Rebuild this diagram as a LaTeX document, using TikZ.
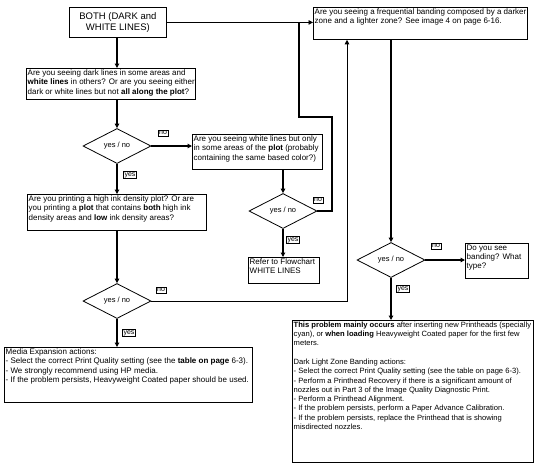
\documentclass[tikz,border=0pt]{standalone}
\usepackage{fontspec}
\setmainfont{Liberation Sans}
\usetikzlibrary{shapes.geometric,arrows.meta}

\tikzset{
  frame/.style={draw, line width=0.8pt, inner sep=0pt, anchor=north west},
  txt/.style={anchor=north west, inner sep=1.5pt, align=left, font=\fontsize{8}{9.3}\selectfont},
  choice/.style={draw, diamond, aspect=2, line width=0.8pt, inner sep=0pt, minimum width=68pt, minimum height=35pt, font=\fontsize{7.5}{9}\selectfont},
  tag/.style={draw, line width=0.5pt, inner sep=1pt, font=\fontsize{7}{8}\selectfont},
  flow/.style={line width=1.3pt, -{Triangle[length=4.5pt,width=4.5pt]}},
  link/.style={line width=0.9pt, -{Triangle[length=4.5pt,width=4.5pt]}},
}

\begin{document}
\begin{tikzpicture}[x=1pt,y=1pt,yscale=-1,xscale=1]
    \useasboundingbox (0,0) rectangle (540,464); %set diagram to the 540 x 464 page

    %Shape: Rectangle
    \node[frame, minimum width=97, minimum height=30, align=center, font=\fontsize{9.5}{11}\selectfont] (both) at (69,7) {BOTH (DARK and\\WHITE LINES)};
    %Shape: Rectangle
    \node[frame, minimum width=169, minimum height=31] (mixed) at (26,68) {};
    %Shape: Rectangle
    \node[frame, minimum width=130, minimum height=35] (white) at (192,134) {};
    %Shape: Rectangle
    \node[frame, minimum width=179, minimum height=36] (density) at (27,194) {};
    %Shape: Rectangle
    \node[frame, minimum width=248, minimum height=55] (media) at (4,347) {};
    %Shape: Rectangle
    \node[frame, minimum width=214, minimum height=32] (freq) at (313,7) {};
    %Shape: Rectangle
    \node[frame, minimum width=71, minimum height=26] (refer) at (248,257) {};
    %Shape: Rectangle
    \node[frame, minimum width=63, minimum height=35] (banding) at (465,243) {};
    %Shape: Rectangle
    \node[frame, minimum width=241, minimum height=142] (zone) at (292,320) {};

    %Shape: Diamond
    \node[choice] (d1) at (117,146) {yes / no};
    %Shape: Diamond
    \node[choice] (d2) at (283,211) {yes / no};
    %Shape: Diamond
    \node[choice] (d3) at (117,301) {yes / no};
    %Shape: Diamond
    \node[choice] (d4) at (391,260) {yes / no};

    %Straight Lines
    \draw[flow] (both.south -| d1) -- (mixed.north -| d1);
    \draw[link] (both.east) -- (both.east -| freq.west);
    %Straight Lines
    \draw[flow] (mixed.south -| d1) -- (d1.north);
    \draw[flow] (d1.east) -- (d1.east -| white.west);
    \draw[flow] (d1.south) -- (density.north -| d1);
    %Straight Lines
    \draw[flow] (white.south -| d2) -- (d2.north);
    \draw[flow] (d2.south) -- (refer.north -| d2);
    \coordinate (up) at (332,117);
    \coordinate (over) at (299,117);
    \draw[line width=1.3pt] (d2.east) -| (up) -- (over) -- (over |- both.east);
    %Straight Lines
    \draw[flow] (density.south -| d3) -- (d3.north);
    \draw[flow] (d3.south) -- (media.north -| d3);
    \coordinate (rise) at (347,301);
    \draw[link] (d3.east) -- (rise) -- (rise |- freq.south);
    %Straight Lines
    \draw[flow] (freq.south -| d4) -- (d4.north);
    \draw[flow] (d4.east) -- (d4.east -| banding.west);
    \draw[flow] (d4.south) -- (zone.north -| d4);

    % Text Node
    \node[tag] (no1) at (163,133) {no};
    \node[tag] (yes1) at (130,175) {yes};
    \node[tag] (no2) at (318,200) {no};
    \node[tag] (yes2) at (293,240) {yes};
    \node[tag] (no3) at (161,290) {no};
    \node[tag] (yes3) at (129,333) {yes};
    \node[tag] (no4) at (436,246) {no};
    \node[tag] (yes4) at (403,289) {yes};

    % Text Node
    \node[txt] (mixedtxt) at (mixed.north west) {Are you seeing dark lines in some areas and\\\textbf{white lines} in others? Or are you seeing either\\dark or white lines but not \textbf{all along the plot}?};
    % Text Node
    \node[txt] (whitetxt) at (white.north west) {Are you seeing white lines but only\\in some areas of the \textbf{plot} (probably\\containing the same based color?)};
    % Text Node
    \node[txt] (densitytxt) at (density.north west) {Are you printing a high ink density plot? Or are\\you printing a \textbf{plot} that contains \textbf{both} high ink\\density areas and \textbf{low} ink density areas?};
    % Text Node
    \node[txt] (mediatxt) at (media.north west) {Media Expansion actions:\\- Select the correct Print Quality setting (see the \textbf{table on page} 6-3).\\- We strongly recommend using HP media.\\- If the problem persists, Heavyweight Coated paper should be used.};
    % Text Node
    \node[txt] (freqtxt) at (freq.north west) {Are you seeing a frequential banding composed by a darker\\zone and a lighter zone? See image 4 on page 6-16.};
    % Text Node
    \node[txt] (refertxt) at (refer.north west) {Refer to Flowchart\\WHITE LINES};
    % Text Node
    \node[txt] (bandingtxt) at (banding.north west) {Do you see\\banding? What\\type?};
    % Text Node
    \node[txt, font=\fontsize{7.6}{9.3}\selectfont] (zonetxt) at (zone.north west) {\textbf{This problem mainly occurs} after inserting new Printheads (specially\\cyan), or \textbf{when loading} Heavyweight Coated paper for the first few\\meters.\\[9.3pt]Dark Light Zone Banding actions:\\- Select the correct Print Quality setting (see the table on page 6-3).\\- Perform a Printhead Recovery if there is a significant amount of\\nozzles out in Part 3 of the Image Quality Diagnostic Print.\\- Perform a Printhead Alignment.\\- If the problem persists, perform a Paper Advance Calibration.\\- If the problem persists, replace the Printhead that is showing\\misdirected nozzles.};
\end{tikzpicture}
\end{document}
